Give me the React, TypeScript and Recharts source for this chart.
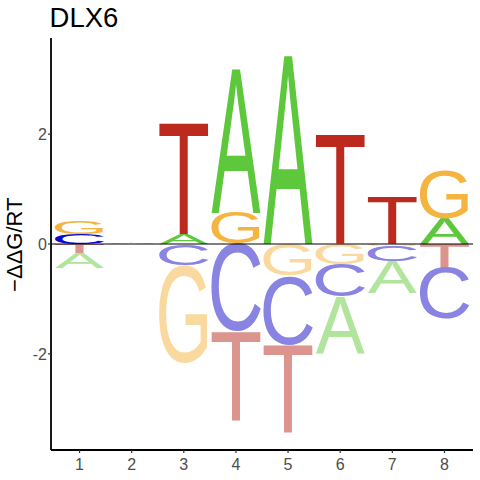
import React from 'react';
import { ComposedChart, Bar, XAxis, YAxis, ReferenceLine } from 'recharts';

// sequence positions (x categories)
const positions = ['1', '2', '3', '4', '5', '6', '7', '8'];

// letters above zero, listed from the zero line upwards
const upLetters: string[][] = [['C', 'G'], ['A'], ['A', 'T'], ['G', 'A'], ['A'], ['T'], ['T'], ['A', 'G']];
const upHeights: number[][] = [[0.18, 0.24], [0.03], [0.19, 1.99], [0.57, 2.61], [3.42], [1.98], [0.87], [0.46, 0.88]];

// letters below zero, listed from the zero line downwards
const downLetters: string[][] = [['T', 'A'], [], ['C', 'G'], ['C', 'T'], ['G', 'C', 'T'], ['G', 'C', 'A'], ['G', 'C', 'A'], ['T', 'C']];
const downHeights: number[][] = [[0.16, 0.27], [], [0.39, 1.78], [1.6, 1.61], [0.58, 1.26, 1.58], [0.37, 0.59, 1.02], [0.04, 0.28, 0.58], [0.43, 0.93]];

const yTicks = [-2, 0, 2];

const upColors: Record<string, string> = { A: '#5DC83B', C: '#0B0BCB', G: '#F5B43F', T: '#BC2A1F' };
const downColors: Record<string, string> = { A: '#B1E49D', C: '#8983E2', G: '#FAD99F', T: '#DC948F' };

const FONT = "'Liberation Sans', Arial, Helvetica, sans-serif";

// glyph bounding boxes (Liberation Sans) in em units: [xMin, xMax, yMin, yMax]
const glyphBox: Record<string, number[]> = {
  A: [0, 0.667, 0, 0.688],
  C: [0.05, 0.68, -0.012, 0.7],
  G: [0.05, 0.72, -0.012, 0.7],
  T: [0.02, 0.59, 0, 0.688],
};

const rows = positions.map((pos, i) => {
  const r: Record<string, any> = { pos };
  for (let k = 0; k < 2; k++) r['u' + k] = upHeights[i][k] ?? 0;
  for (let k = 0; k < 3; k++) r['d' + k] = -(downHeights[i][k] ?? 0);
  return r;
});

function makeShape(side: 'u' | 'd', slot: number) {
  return (props: any) => {
    const pos = props.payload?.pos;
    const i = positions.indexOf(pos);
    if (i < 0) return <g />;
    const letters = side === 'u' ? upLetters[i] : downLetters[i];
    const letter = letters[slot];
    if (!letter) return <g />;
    const { x, y, width, height } = props;
    const top = Math.min(y, y + height);
    const h = Math.abs(height);
    const w = width;
    if (!(h > 0) || !(w > 0)) return <g />;
    const [x0, x1, y0, y1] = glyphBox[letter];
    const F = 100;
    const sx = w / ((x1 - x0) * F);
    const sy = h / ((y1 - y0) * F);
    const color = side === 'u' ? upColors[letter] : downColors[letter];
    return (
      <text
        transform={`translate(${x - x0 * F * sx},${top + y1 * F * sy}) scale(${sx},${sy})`}
        fontFamily={FONT}
        fontSize={F}
        fill={color}
      >
        {letter}
      </text>
    );
  };
}

export default function App() {
  return (
    <div style={{ position: 'absolute', left: 0, top: 0, width: 480, height: 480, background: '#ffffff' }}>
      <ComposedChart
        width={480}
        height={480}
        data={rows}
        stackOffset="sign"
        barCategoryGap={1.5}
        margin={{ top: 38, right: 7, bottom: 0, left: 0 }}
      >
        <XAxis
          dataKey="pos"
          type="category"
          height={30}
          padding={{ left: 2.5, right: 2.5 }}
          axisLine={{ stroke: '#000', strokeWidth: 1.8 }}
          tickLine={{ stroke: '#333', strokeWidth: 1.2 }}
          tickSize={3}
          tickMargin={5.5}
          tick={{ fill: '#4D4D4D', fontSize: 16, fontFamily: FONT }}
        />
        <YAxis
          type="number"
          domain={[-3.75, 3.75]}
          ticks={yTicks}
          width={51}
          axisLine={{ stroke: '#000', strokeWidth: 1.8 }}
          tickLine={{ stroke: '#333', strokeWidth: 1.2 }}
          tickSize={3}
          tickMargin={1}
          tick={{ fill: '#4D4D4D', fontSize: 16, fontFamily: FONT }}
          allowDataOverflow
        />
        <Bar dataKey="u0" stackId="logo" isAnimationActive={false} shape={makeShape('u', 0)} />
        <Bar dataKey="u1" stackId="logo" isAnimationActive={false} shape={makeShape('u', 1)} />
        <Bar dataKey="d0" stackId="logo" isAnimationActive={false} shape={makeShape('d', 0)} />
        <Bar dataKey="d1" stackId="logo" isAnimationActive={false} shape={makeShape('d', 1)} />
        <Bar dataKey="d2" stackId="logo" isAnimationActive={false} shape={makeShape('d', 2)} />
        <ReferenceLine y={0} stroke="#000" strokeWidth={1} />
      </ComposedChart>
      <svg width={480} height={480} style={{ position: 'absolute', left: 0, top: 0, pointerEvents: 'none' }}>
        <text x={49.6} y={26.7} fontFamily={FONT} fontSize={27.5} fill="#000">DLX6</text>
        <text
          x={21.7}
          y={244.7}
          transform="rotate(-90, 21.7, 244.7)"
          textAnchor="middle"
          fontFamily={FONT}
          fontSize={22}
          fill="#000"
        >
          −ΔΔG/RT
        </text>
      </svg>
    </div>
  );
}
